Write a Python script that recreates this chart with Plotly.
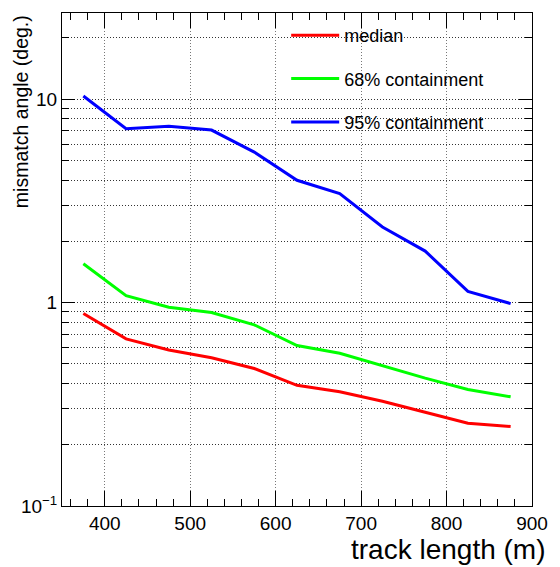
import plotly.graph_objects as go

# Track-length bins (bin centres, m)
track_length = [375, 425, 475, 525, 575, 625, 675, 725, 775, 825, 875]

# Mismatch angle (deg.) per bin
median = [0.883, 0.663, 0.585, 0.535, 0.474, 0.392, 0.364, 0.327, 0.289, 0.255, 0.246]
cont68 = [1.55, 1.08, 0.948, 0.893, 0.777, 0.615, 0.563, 0.49, 0.425, 0.374, 0.344]
cont95 = [10.35, 7.15, 7.35, 7.04, 5.49, 3.99, 3.43, 2.35, 1.79, 1.135, 0.988]

series_names = ["median", "68% containment", "95% containment"]
series_colors = ["#ff0000", "#00ff00", "#0000ff"]

y_major = [0.1, 1, 10]
y_major_text = ["10<sup>\u22121</sup>", "1", "10"]
y_minor = [0.2, 0.3, 0.4, 0.5, 0.6, 0.7, 0.8, 0.9,
           2, 3, 4, 5, 6, 7, 8, 9, 20]

FONT = "Liberation Sans, Arial, Helvetica, sans-serif"

fig = go.Figure()
for i, (name, vals, col) in enumerate(zip(series_names, [median, cont68, cont95], series_colors)):
    fig.add_trace(go.Scatter(
        x=track_length, y=vals, mode="lines", name=name,
        line=dict(color=col, width=3),
        legendgroup=f"g{i}",
    ))

fig.update_layout(
    width=560, height=567,
    margin=dict(l=62, r=18, t=13, b=61),
    paper_bgcolor="white", plot_bgcolor="white",
    font=dict(family=FONT, color="black", size=19),
    showlegend=True,
    legend=dict(
        x=0.477, y=0.992, xanchor="left", yanchor="top",
        bgcolor="rgba(0,0,0,0)", borderwidth=0,
        font=dict(size=18), itemwidth=48, tracegroupgap=17,
    ),
    shapes=[dict(
        type="rect", xref="paper", yref="paper",
        x0=0.46, x1=0.992, y0=0.732, y1=1.0,
        fillcolor="white", line=dict(width=0), layer="between",
    )],
    annotations=[
        dict(text="track length (m)", xref="paper", yref="paper",
             x=1.033, y=-0.124, xanchor="right", yanchor="bottom",
             showarrow=False, font=dict(size=28)),
        dict(text="mismatch angle (deg.)", xref="paper", yref="paper",
             x=-0.088, y=1.0, xanchor="center", yanchor="top",
             textangle=-90, showarrow=False, font=dict(size=19.5)),
    ],
)

fig.update_xaxes(
    range=[350, 900], dtick=100, tick0=0,
    showline=True, linecolor="black", linewidth=1, mirror="allticks",
    ticks="inside", ticklen=15, tickcolor="black", tickwidth=1,
    showgrid=True, gridcolor="#777", griddash="1px,2px", gridwidth=1,
    zeroline=False,
    minor=dict(dtick=20, tick0=0, ticks="inside", ticklen=7,
               tickcolor="black", showgrid=False),
    tickfont=dict(size=19),
)
fig.update_yaxes(
    type="log", range=[-1, 1.423],
    tickmode="array", tickvals=y_major, ticktext=y_major_text,
    showline=True, linecolor="black", linewidth=1, mirror="allticks",
    ticks="inside", ticklen=13, tickcolor="black", tickwidth=1,
    showgrid=True, gridcolor="#333", griddash="1px,2px", gridwidth=1,
    zeroline=False,
    minor=dict(tickmode="array", tickvals=y_minor, ticks="inside", ticklen=7,
               tickcolor="black", showgrid=True, gridcolor="#333",
               griddash="1px,2px", gridwidth=1),
    tickfont=dict(size=19),
)

fig.write_html("out.html")
